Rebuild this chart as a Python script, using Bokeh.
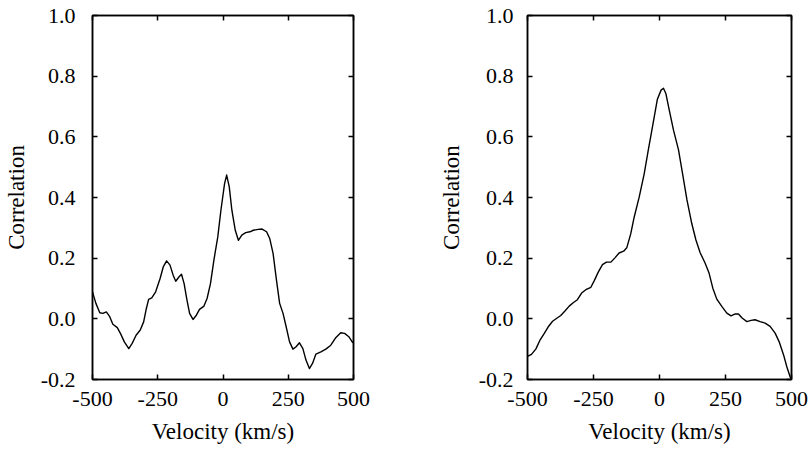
from bokeh.plotting import figure
from bokeh.layouts import row
from bokeh.models import LinearAxis, FixedTicker, Range1d, CustomJSTickFormatter, PrintfTickFormatter
from bokeh.embed import file_html
from bokeh.resources import INLINE

# ---- data -------------------------------------------------------------
x_ticks = [-500, -250, 0, 250, 500]
y_ticks = [-0.2, 0.0, 0.2, 0.4, 0.6, 0.8, 1.0]
x_label = "Velocity (km/s)"
y_label = "Correlation"

vel_left = [-500, -487, -472, -460, -447, -434, -422, -405, -393, -378, -361, -348,
            -333, -317, -304, -295, -285, -273, -258, -241, -229, -216, -203, -191,
            -181, -169, -159, -149, -138, -128, -115, -102, -90, -73, -61, -48, -35,
            -20, -8, 6, 14, 24, 34, 47, 59, 72, 87, 103, 116, 135, 150, 167, 179,
            192, 205, 217, 230, 242, 255, 268, 280, 293, 306, 318, 331, 343, 356,
            375, 394, 413, 432, 451, 466, 482, 495, 500]
corr_left = [0.089, 0.051, 0.020, 0.018, 0.023, 0.007, -0.018, -0.029, -0.048, -0.076,
             -0.098, -0.081, -0.054, -0.037, -0.010, 0.029, 0.064, 0.069, 0.089, 0.133,
             0.171, 0.191, 0.177, 0.144, 0.124, 0.138, 0.147, 0.116, 0.062, 0.018,
             -0.002, 0.012, 0.031, 0.042, 0.067, 0.116, 0.193, 0.270, 0.358, 0.446,
             0.474, 0.435, 0.358, 0.292, 0.259, 0.276, 0.284, 0.287, 0.292, 0.295,
             0.296, 0.287, 0.265, 0.215, 0.127, 0.051, 0.018, -0.026, -0.076, -0.100,
             -0.092, -0.079, -0.098, -0.136, -0.164, -0.147, -0.116, -0.109, -0.100,
             -0.087, -0.062, -0.046, -0.048, -0.059, -0.076, -0.080]

vel_right = [-500, -485, -468, -452, -437, -422, -405, -389, -374, -359, -342, -327,
             -311, -295, -279, -260, -247, -232, -216, -201, -184, -169, -153, -136,
             -124, -109, -96, -77, -58, -43, -27, -8, 6, 15, 24, 37, 53, 72, 87, 104,
             122, 138, 154, 173, 188, 202, 217, 236, 255, 271, 287, 299, 314, 331,
             347, 362, 381, 400, 419, 438, 453, 470, 482, 495, 500]
corr_right = [-0.124, -0.117, -0.099, -0.069, -0.049, -0.027, -0.008, 0.002, 0.011,
              0.025, 0.042, 0.053, 0.063, 0.085, 0.096, 0.104, 0.126, 0.154, 0.179,
              0.187, 0.187, 0.201, 0.217, 0.223, 0.234, 0.280, 0.335, 0.401, 0.478,
              0.554, 0.631, 0.724, 0.754, 0.760, 0.743, 0.688, 0.622, 0.557, 0.480,
              0.392, 0.315, 0.260, 0.218, 0.183, 0.150, 0.101, 0.065, 0.041, 0.019,
              0.010, 0.016, 0.016, 0.002, -0.009, -0.005, -0.003, -0.009, -0.014,
              -0.025, -0.047, -0.075, -0.119, -0.157, -0.192, -0.199]

FONT = "Liberation Serif"


def style_axis(ax, tick_standoff=10):
    ax.major_tick_in = 5
    ax.major_tick_out = 0
    ax.minor_tick_line_color = None
    ax.axis_line_color = "black"
    ax.axis_line_width = 1.5
    ax.major_tick_line_color = "black"
    ax.major_tick_line_width = 1.5
    ax.major_label_text_font = FONT
    ax.major_label_text_color = "black"
    ax.major_label_text_font_size = "22px"
    ax.major_label_standoff = tick_standoff
    ax.axis_label_text_font = FONT
    ax.axis_label_text_font_size = "23px"
    ax.axis_label_text_font_style = "normal"
    ax.axis_label_text_color = "black"


def make(vx, vy, width, b_left, b_right, y_standoff, ylab_standoff):
    p = figure(width=width, height=452, output_backend="svg", toolbar_location=None,
               x_range=Range1d(-500, 500), y_range=Range1d(-0.2, 1.0),
               min_border_left=b_left, min_border_right=b_right,
               min_border_top=15, min_border_bottom=73)
    p.xgrid.visible = False
    p.ygrid.visible = False
    p.outline_line_color = "black"
    p.outline_line_width = 1.5
    p.background_fill_color = "white"
    p.border_fill_color = "white"

    p.line(vx, vy, line_color="black", line_width=1.4, line_join="round")

    xa = p.xaxis[0]
    ya = p.yaxis[0]
    xa.ticker = FixedTicker(ticks=x_ticks)
    xa.formatter = PrintfTickFormatter(format="%d")
    ya.ticker = FixedTicker(ticks=y_ticks)
    ya.formatter = PrintfTickFormatter(format="%.1f")
    style_axis(xa, tick_standoff=12)
    style_axis(ya, tick_standoff=y_standoff)
    xa.axis_label = x_label
    ya.axis_label = y_label
    xa.axis_label_standoff = 10
    ya.axis_label_standoff = ylab_standoff

    blank = CustomJSTickFormatter(code="return ''")
    top = LinearAxis(ticker=FixedTicker(ticks=x_ticks), formatter=blank)
    right = LinearAxis(ticker=FixedTicker(ticks=y_ticks), formatter=blank)
    for ax in (top, right):
        style_axis(ax, tick_standoff=0)
        ax.major_label_text_font_size = "1px"
    p.add_layout(top, "above")
    p.add_layout(right, "right")
    return p


p1 = make(vel_left, corr_left, 400, 89, 47, 17, 9)
p2 = make(vel_right, corr_right, 410, 127, 19, 14, 12)

layout = row(p1, p2)
open("out.html", "w").write(file_html(layout, INLINE))
